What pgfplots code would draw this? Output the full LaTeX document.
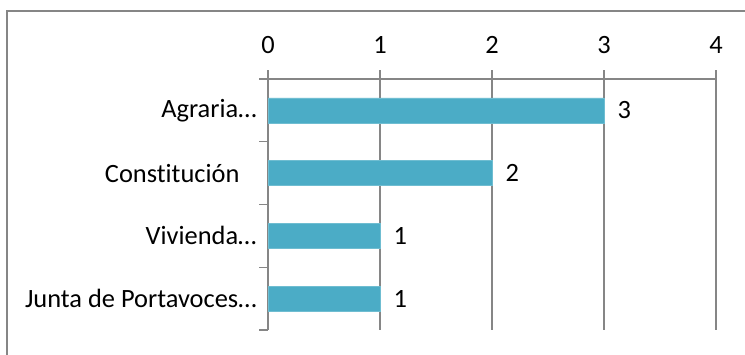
\documentclass[border=0pt]{standalone}
\usepackage{pgfplots}
\pgfplotsset{compat=1.18}
\usepackage{fontspec}
\setmainfont[Ligatures=NoCommon]{Carlito}
\definecolor{barblue}{HTML}{4BACC6}
\definecolor{axgray}{HTML}{868686}

\begin{document}
\begin{tikzpicture}[x=1bp,y=1bp]
\useasboundingbox (0,0) rectangle (745,-354);
% chart area frame (right and bottom edges fall outside the picture)
\draw[axgray, line width=1.3bp] (7,-11) rectangle (775,-385);
\begin{axis}[
  at={(268bp,-79bp)}, anchor=north west,
  scale only axis, width=448bp, height=251bp,
  xmin=0, xmax=4, ymin=-0.5, ymax=3.5, y dir=reverse,
  axis x line*=top, axis y line*=left,
  axis line style={axgray, line width=1.3bp, -},
  xtick={0,1,2,3,4},
  ytick={-0.5,0.5,1.5,2.5,3.5},
  y tick label as interval,
  yticklabels={Agraria…, Constitución\hspace*{17bp}, Vivienda…, Junta de Portavoces…},
  xmajorgrids,
  grid style={axgray, line width=1.3bp},
  tick style={axgray, line width=1.3bp},
  tick align=outside, major tick length=9bp,
  /pgf/number format/assume math mode=true,
  tick label style={font=\fontsize{26.5}{31}\selectfont, text=black},
  xticklabel style={yshift=13bp},
  yticklabel style={xshift=1bp},
  xbar, bar width=25bp,
  nodes near coords,
  every node near coord/.append style={font=\fontsize{26.5}{31}\selectfont, text=black, xshift=10bp},
]
\addplot[fill=barblue, draw=barblue!80!white] coordinates {(3,0) (2,1) (1,2) (1,3)};
\end{axis}
\end{tikzpicture}
\end{document}
